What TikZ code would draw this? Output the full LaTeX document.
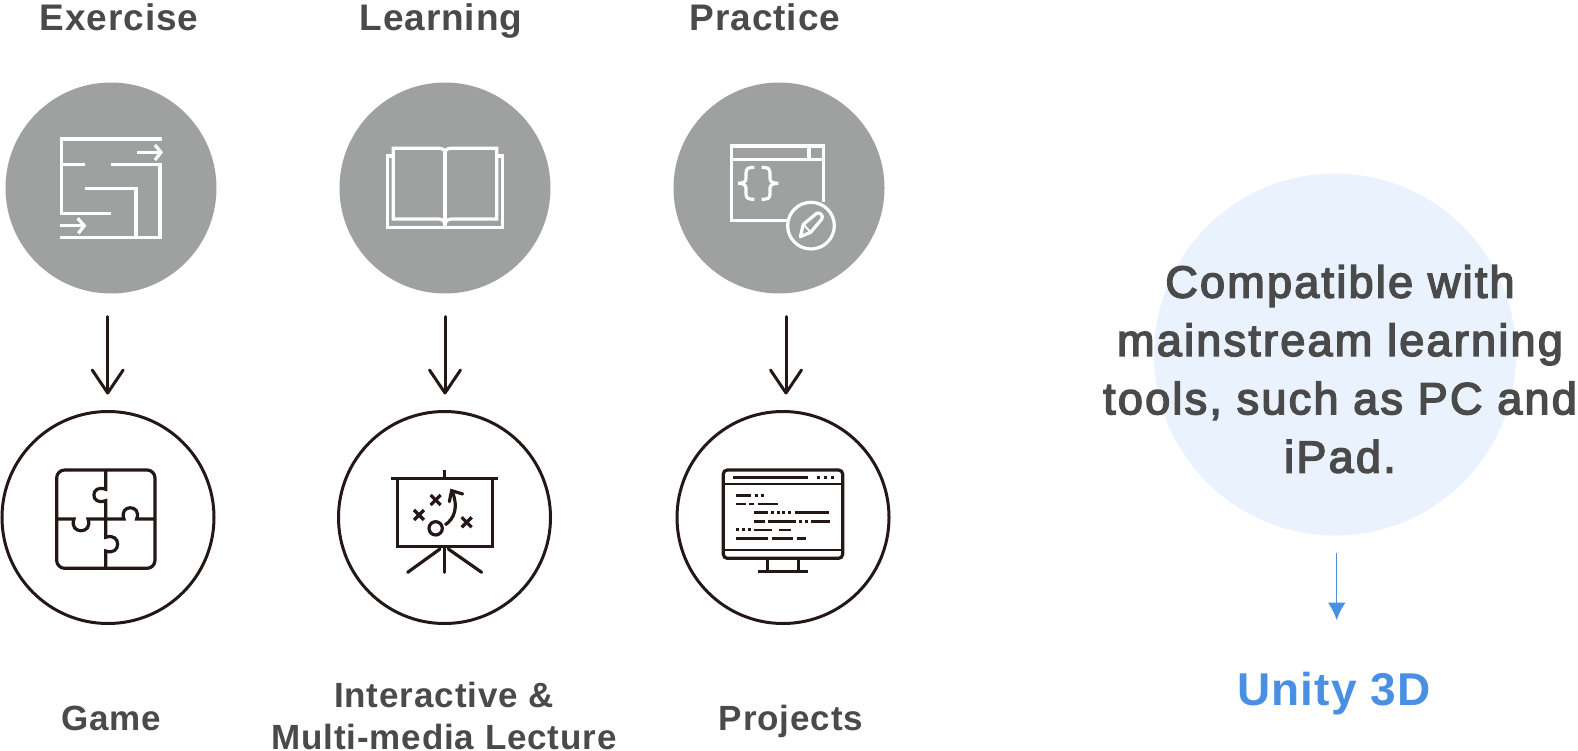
\documentclass[tikz,border=0pt]{standalone}
\usepackage{fontspec}
\usetikzlibrary{arrows.meta}
\setmainfont{Liberation Sans}
\newfontfamily\labelfont[LetterSpace=2.5]{Liberation Sans Bold}
\newfontfamily\notefont[LetterSpace=5]{Liberation Sans}
\newcommand{\heavyline}[1]{\special{pdf:code q 2 Tr 1.5 w}#1\special{pdf:code Q}}
\definecolor{discgray}{HTML}{9FA0A0}
\definecolor{inkdark}{HTML}{231815}
\definecolor{textgray}{HTML}{4A4A4A}
\definecolor{paleblue}{HTML}{EAF3FD}
\definecolor{unityblue}{HTML}{4A90E2}
\tikzset{
  graydisc/.style={circle, fill=discgray, minimum size=211pt, inner sep=0pt, outer sep=0pt},
  ringdisc/.style={circle, draw=inkdark, line width=3pt, minimum size=212pt, inner sep=0pt, outer sep=0pt},
  headlabel/.style={anchor=base, inner sep=0pt, text=textgray, font=\labelfont\fontsize{37}{37}\selectfont},
  footlabel/.style={headlabel, align=center, font=\labelfont\fontsize{35}{42}\selectfont},
  flowarrow/.style={draw=inkdark, line width=3pt, line cap=round, -{Straight Barb[length=23pt, width=31pt, round]}},
  iconwhite/.style={draw=white, line width=3.2pt},
  iconblack/.style={draw=inkdark, line width=3.2pt},
  zoomgrid/.style={x=0.3333pt, y=-0.3333pt},
}
\begin{document}
\begin{tikzpicture}[x=1pt, y=-1pt]
\useasboundingbox (0,0) rectangle (1578,750);

% top row
\node[graydisc] (exercise) at (111,188) {};
\node[graydisc] (learning) at (445,188) {};
\node[graydisc] (practice) at (779,188) {};
\node[headlabel] (exerciselabel) at (119,30) {Exercise};
\node[headlabel] (learninglabel) at (441,30) {Learning};
\node[headlabel] (practicelabel) at (765,30) {Practice};

% bottom row
\node[ringdisc] (game) at (108,517.5) {};
\node[ringdisc] (lecture) at (444.5,517.5) {};
\node[ringdisc] (projects) at (783,517.5) {};
\node[footlabel] (gamelabel) at (111.5,730) {Game};
\node[footlabel, anchor=center] (lecturelabel) at (444,716) {Interactive \&\\Multi-media Lecture};
\node[footlabel] (projectslabel) at (791,730) {Projects};

\draw[flowarrow, shorten <=23pt, shorten >=17pt] ([xshift=-3.3pt]exercise.south) -- ([xshift=-0.3pt]game.north);
\draw[flowarrow, shorten <=23pt, shorten >=17pt] (learning.south) -- ([xshift=0.5pt]lecture.north);
\draw[flowarrow, shorten <=23pt, shorten >=17pt] ([xshift=7pt]practice.south) -- ([xshift=3pt]projects.north);

% maze
\begin{scope}[yshift=-70pt, zoomgrid]
\draw[iconwhite] (486,207) -- (185,207) -- (185,430) -- (332,430);
\draw[iconwhite] (185,283) -- (255,283);
\draw[iconwhite] (332,283) -- (480,283) -- (480,502) -- (180,502);
\draw[iconwhite] (255,355) -- (408,355) -- (408,502);
\draw[iconwhite] (412,247) -- (480,247);
\draw[iconwhite] (465,225) -- (483,247) -- (465,270);
\draw[iconwhite] (180,467) -- (250,467);
\draw[iconwhite] (233,445) -- (253,467) -- (235,490);
\end{scope}

% book
\begin{scope}[xshift=330pt, yshift=-70pt, zoomgrid]
\draw[iconwhite] (345,250) .. controls (345,240) and (338,235) .. (328,235) -- (190,235) -- (190,447) -- (325,447) .. controls (338,447) and (345,455) .. (345,467);
\draw[iconwhite] (345,250) .. controls (345,240) and (352,235) .. (362,235) -- (500,235) -- (500,447) -- (365,447) .. controls (352,447) and (345,455) .. (345,467);
\draw[iconwhite] (345,250) -- (345,467);
\draw[iconwhite] (190,258) -- (172,258) -- (172,473) -- (518,473) -- (518,258) -- (500,258);
\end{scope}

% code window
\begin{scope}[xshift=660pt, yshift=-70pt, zoomgrid]
\draw[iconwhite] (490,395) -- (490,228) -- (215,228) -- (215,452) -- (380,452);
\draw[iconwhite] (215,268) -- (490,268);
\draw[iconwhite] (447,228) -- (447,268);
\draw[iconwhite] (283,292) .. controls (265,292) and (258,295) .. (258,310) -- (258,325) .. controls (258,335) and (250,340) .. (235,340) .. controls (250,340) and (258,345) .. (258,355) -- (258,372) .. controls (258,385) and (265,388) .. (283,388);
\draw[iconwhite] (305,292) .. controls (323,292) and (330,295) .. (330,310) -- (330,325) .. controls (330,335) and (338,340) .. (355,340) .. controls (338,340) and (330,345) .. (330,355) -- (330,372) .. controls (330,385) and (323,388) .. (305,388);
\draw[iconwhite] (453,467) circle (70);
\draw[iconwhite, line join=round] (421,500) -- (430,463) -- (470,430) .. controls (480,425) and (492,438) .. (485,448) -- (452,487) -- cycle;
\draw[iconwhite, line width=1.8pt] (430,463) -- (452,487);
\end{scope}

% puzzle
\begin{scope}[yshift=-400pt, zoomgrid]
\draw[iconblack, rounded corners=8pt] (170,210) rectangle (465,505);
\draw[iconblack] (317,210) -- (317,268) .. controls (270,250) and (270,320) .. (317,302) -- (317,412) .. controls (365,395) and (365,470) .. (317,453) -- (317,505);
\draw[iconblack] (170,357) -- (222,357) .. controls (205,404) and (281,404) .. (264,357) -- (372,357) .. controls (355,312) and (427,312) .. (410,357) -- (465,357);
\end{scope}

% board
\begin{scope}[xshift=330pt, yshift=-400pt, zoomgrid]
\draw[iconblack] (183,236) -- (503,236);
\draw[iconblack] (343,210) -- (343,236);
\draw[iconblack] (203,236) -- (203,440) -- (487,440) -- (487,236);
\draw[iconblack, line cap=round] (343,440) -- (343,517);
\draw[iconblack, line cap=round] (330,447) -- (233,517);
\draw[iconblack, line cap=round] (355,447) -- (455,517);
\foreach \cx/\cy in {317/300, 267/345, 410/367} {
    \draw[iconblack] (\cx-15,\cy-15) -- (\cx+15,\cy+15);
    \draw[iconblack] (\cx-15,\cy+15) -- (\cx+15,\cy-15);
}
\draw[iconblack] (317,385) circle (20);
\draw[iconblack] (345,375) .. controls (375,355) and (385,320) .. (367,275);
\draw[iconblack, line cap=round] (358,305) -- (365,272) -- (398,282);
\end{scope}

% monitor
\begin{scope}[xshift=660pt, yshift=-400pt, zoomgrid]
\draw[iconblack, rounded corners=4pt] (190,210) rectangle (548,475);
\draw[iconblack, line width=2.6pt] (190,252) -- (548,252);
\draw[iconblack, line width=2.6pt] (190,450) -- (548,450);
\draw[iconblack, line width=2.6pt] (220,233) -- (445,233);
\draw[iconblack] (323,475) -- (323,515);
\draw[iconblack] (415,475) -- (415,515);
\draw[iconblack] (295,515) -- (445,515);
\foreach \xa/\xb/\yy in {228/272/287, 228/258/312, 268/282/312, 293/355/312,
    283/325/338, 405/508/338, 283/316/364, 325/407/364, 453/510/364,
    283/335/390, 358/392/390, 228/325/415, 335/398/415, 410/438/415} {
    \draw[iconblack, line width=2.6pt] (\xa,\yy) -- (\xb,\yy);
}
\foreach \xa/\yy in {477/233, 497/233, 518/233, 288/287, 306/287, 338/338, 355/338, 372/338, 390/338,
    422/364, 440/364, 232/390, 250/390, 268/390} {
    \fill[inkdark] (\xa-4.5,\yy-4.5) rectangle (\xa+4.5,\yy+4.5);
}
\end{scope}

% right side
\node[circle, fill=paleblue, minimum size=362pt, inner sep=0pt, outer sep=0pt] (compat) at (1335,354.5) {};
\node[inner sep=0pt, align=center, text=textgray, font=\notefont\fontsize{45}{58.3}\selectfont] (compatlabel) at (1340,369) {\heavyline{Compatible with}\\\heavyline{mainstream learning}\\\heavyline{tools, such as PC and}\\\heavyline{iPad.}};
\node[anchor=base, inner sep=0pt, text=unityblue, font=\labelfont\fontsize{46}{46}\selectfont] (unity) at (1334,705.7) {Unity 3D};
\draw[draw=unityblue, line width=1.5pt, -{Latex[length=17.5pt, width=17.5pt]}, shorten <=17pt, shorten >=52pt] ([xshift=1.7pt]compat.south) -- ([xshift=1.7pt]compat.south |- unity.north);
\end{tikzpicture}
\end{document}
